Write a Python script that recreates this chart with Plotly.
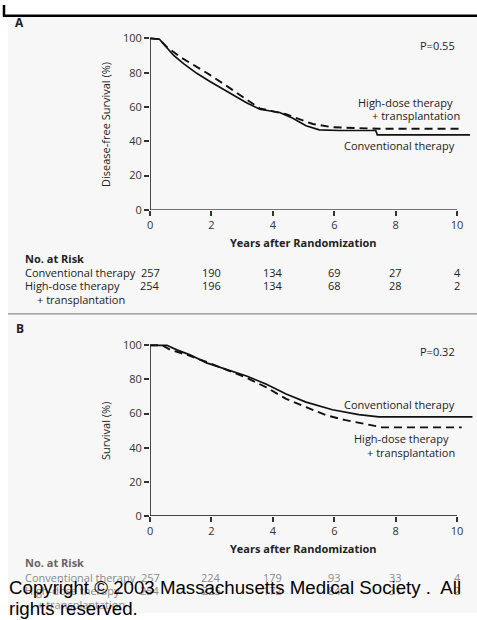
import plotly.graph_objects as go

W, H = 477, 620

# ---- Data ----
a_conv_years = [0, 0.3, 0.39, 0.77, 1.09, 1.52, 1.95, 2.49, 3.14, 3.57, 4.22, 4.65, 5.08, 5.51, 6.16, 7.35, 7.4, 10.42]
a_conv_surv = [100, 99.6, 97.7, 90, 85.3, 79.6, 74.9, 69.1, 62.5, 58.7, 56.8, 53.5, 49.1, 46.7, 46.3, 46.3, 43.8, 43.8]
a_hd_years = [0, 0.3, 0.55, 0.98, 1.52, 1.95, 2.6, 3.14, 3.57, 4.43, 4.86, 5.3, 5.94, 7.45, 10.2]
a_hd_surv = [100, 99.5, 94.9, 89.1, 83.4, 78.7, 71, 64.4, 59.2, 55.8, 53, 50.1, 48.2, 47.3, 47.3]

b_conv_years = [0, 0.55, 0.87, 1.3, 1.84, 2.49, 3.14, 3.79, 4.43, 5.08, 5.94, 6.8, 7.45, 10.5]
b_conv_surv = [100, 100, 97.3, 94.4, 89.7, 85.8, 82, 77.2, 71.4, 66.7, 62.2, 59.4, 58, 58]
b_hd_years = [0, 0.4, 0.66, 1.2, 1.84, 2.49, 3.14, 3.79, 4.43, 5.08, 5.73, 6.37, 7.02, 7.56, 10.15]
b_hd_surv = [100, 100, 97.3, 94.4, 90.2, 85.8, 81, 75.3, 68.6, 63.8, 59, 56.1, 53.8, 51.9, 51.9]

risk_years = [0, 2, 4, 6, 8, 10]
a_risk_conv = [257, 190, 134, 69, 27, 4]
a_risk_hd = [254, 196, 134, 68, 28, 2]
b_risk_conv = [257, 224, 179, 93, 33, 4]
b_risk_hd = [254, 225, 172, 84, 31, 2]

x_ticks = [0, 2, 4, 6, 8, 10]
y_ticks = [0, 20, 40, 60, 80, 100]

FONT = "Open Sans"
TXT = "#222222"


def px(x):
    return x / W


def py(y):
    return 1 - y / H


fig = go.Figure()

solid = dict(color="#111111", width=1.7)
dashed = dict(color="#111111", width=1.9, dash="8px,5px")

fig.add_trace(go.Scatter(x=a_conv_years, y=a_conv_surv, mode="lines", line=solid, xaxis="x", yaxis="y", showlegend=False))
fig.add_trace(go.Scatter(x=a_hd_years, y=a_hd_surv, mode="lines", line=dashed, xaxis="x", yaxis="y", showlegend=False))
fig.add_trace(go.Scatter(x=b_conv_years, y=b_conv_surv, mode="lines", line=solid, xaxis="x2", yaxis="y2", showlegend=False))
fig.add_trace(go.Scatter(x=b_hd_years, y=b_hd_surv, mode="lines", line=dashed, xaxis="x2", yaxis="y2", showlegend=False))

x0 = 148
ppy = 30.9
xr = [0, 10.6]
xdom = [px(x0), px(x0 + ppy * xr[1])]

axis_common = dict(showgrid=False, zeroline=False, showline=False, ticks="outside",
                   ticklen=5, tickwidth=1.5, tickcolor="#333333",
                   tickfont=dict(family=FONT, size=11, color="#333333"), fixedrange=True)

# A: y=0 at 209px, 1.75px per %
ya_dom = [py(209), py(209 - 1.75 * 102)]
# B: y=0 at 521px, 1.74px per %
yb_dom = [py(521), py(521 - 1.74 * 102)]

fig.update_layout(
    width=W, height=H, margin=dict(l=0, r=0, t=0, b=0),
    paper_bgcolor="white", plot_bgcolor="rgba(0,0,0,0)",
    xaxis=dict(domain=xdom, range=xr, tickvals=x_ticks, anchor="y", **axis_common),
    yaxis=dict(domain=ya_dom, range=[0, 102], tickvals=y_ticks, anchor="x", **axis_common),
    xaxis2=dict(domain=xdom, range=xr, tickvals=x_ticks, anchor="y2", **axis_common),
    yaxis2=dict(domain=yb_dom, range=[0, 102], tickvals=y_ticks, anchor="x2", **axis_common),
)

shapes = []
# background panel
shapes.append(dict(type="rect", xref="paper", yref="paper", x0=px(5), x1=1, y0=0, y1=py(12),
                   fillcolor="#f7f7f7", line=dict(width=0), layer="below"))
# top black border and left corner
shapes.append(dict(type="line", xref="paper", yref="paper", x0=0, x1=1, y0=py(11), y1=py(11),
                   line=dict(color="black", width=2.5)))
shapes.append(dict(type="line", xref="paper", yref="paper", x0=px(1), x1=px(1), y0=py(12), y1=1,
                   line=dict(color="black", width=2.5)))
# separator
shapes.append(dict(type="line", xref="paper", yref="paper", x0=px(5), x1=1, y0=py(315), y1=py(315),
                   line=dict(color="#777777", width=1)))
# axis lines
for xa, ya in (("x", "y"), ("x2", "y2")):
    shapes.append(dict(type="line", xref=xa, yref=ya, x0=0, x1=10, y0=0, y1=0,
                       line=dict(color="#444444", width=1.6)))
    shapes.append(dict(type="line", xref=xa, yref=ya, x0=0, x1=0, y0=0, y1=100,
                       line=dict(color="#222222", width=1.6)))
fig.update_layout(shapes=shapes)

ann = []


def text(t, x, y, size=11, color=TXT, xanchor="left", bold=False, family=FONT, xref="paper", angle=0):
    if bold:
        t = "<b>" + t + "</b>"
    ann.append(dict(text=t, x=(px(x) if xref == "paper" else x), y=py(y), xref=xref, yref="paper",
                    xanchor=xanchor, yanchor="middle", showarrow=False, textangle=angle,
                    font=dict(family=family, size=size, color=color)))


# Panel A
text("A", 17, 18, size=12, bold=True, xanchor="center")
text("P=0.55", 457, 41, xanchor="right")
text("High-dose therapy", 455, 99, xanchor="right")
text("+ transplantation", 462, 113, xanchor="right")
text("Conventional therapy", 457, 143, xanchor="right")
text("Disease-free Survival (%)", 103, 122, xanchor="center", angle=-90)
text("Years after Randomization", 5.0, 242, xanchor="center", bold=True, xref="x")
text("No. at Risk", 20, 258, bold=True)
text("Conventional therapy", 20, 273)
text("High-dose therapy", 20, 286)
text("+ transplantation", 32, 300)
for yr, c, h in zip(risk_years, a_risk_conv, a_risk_hd):
    text(str(c), yr, 273, xanchor="center", xref="x")
    text(str(h), yr, 286, xanchor="center", xref="x")

# Panel B
text("B", 17, 330, size=12, bold=True, xanchor="center")
text("P=0.32", 457, 353, xanchor="right")
text("Conventional therapy", 457, 407, xanchor="right")
text("High-dose therapy", 451, 442, xanchor="right")
text("+ transplantation", 457, 456, xanchor="right")
text("Survival (%)", 103, 434, xanchor="center", angle=-90)
text("Years after Randomization", 5.0, 554, xanchor="center", bold=True, xref="x2")
faded = "#8a8a8a"
text("No. at Risk", 20, 569, bold=True, color="#666666")
text("Conventional therapy", 20, 584, color=faded)
text("High-dose therapy", 20, 597, color=faded)
text("+ transplantation", 32, 611, color=faded)
for yr, c, h in zip(risk_years, b_risk_conv, b_risk_hd):
    text(str(c), yr, 584, xanchor="center", xref="x2", color=faded)
    text(str(h), yr, 597, xanchor="center", xref="x2", color=faded)

# Copyright overlay
text("Copyright © 2003 Massachusetts Medical Society .  All", 4, 594, size=18.7, color="black",
     family="Liberation Sans")
text("rights reserved.", 4, 615, size=18.7, color="black", family="Liberation Sans")

fig.update_layout(annotations=ann)

fig.write_html("out.html", config={"displayModeBar": False},
               post_script="document.body.style.margin='0';document.body.style.overflow='hidden';")
